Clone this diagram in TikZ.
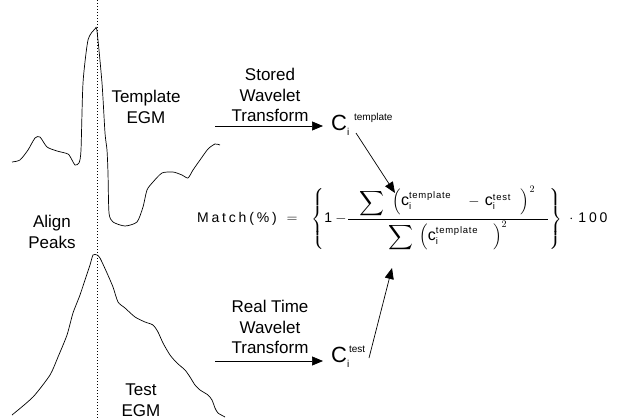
\documentclass[tikz,border=0pt]{standalone}
\usepackage{amsmath}
\usepackage{graphicx}
\usepackage{fontspec}
\setmainfont{Liberation Sans}
\newfontfamily\spacedsf[LetterSpace=20]{Liberation Sans}
\newfontfamily\scriptsf[LetterSpace=8]{Liberation Sans}
\usetikzlibrary{calc, arrows.meta}

% one wavelet coefficient term of the match formula
\newcommand{\cterm}[1]{\text{\fontsize{16}{16}\selectfont c}_{\text{\scriptsf\fontsize{9.5}{10}\selectfont i}}^{\text{\scriptsf\fontsize{9.5}{10}\selectfont #1}}}
\newcommand{\bigsum}{\raisebox{-2pt}{\scalebox{1.2}{$\displaystyle\sum$}}}

\begin{document}
\begin{tikzpicture}[x=1pt,y=-1pt]
            \pgfmathsetmacro{\xa}{97.}
            \pgfmathsetmacro{\xc}{331.}
            \tikzstyle{lbl}=[align=center, inner sep=0pt, font=\fontsize{17}{20.5}\selectfont]
            \tikzstyle{wave}=[line width=0.7pt, black]
            \tikzstyle{flow}=[line width=0.7pt, -{Triangle[length=11pt,width=9pt]}]
            \tikzstyle{coef}=[inner sep=0pt, anchor=base west, font=\fontsize{22}{24}\selectfont]

            \useasboundingbox (0,0) rectangle (624,420);

            %%%%%%%%%%%%%%%%%%%%%%%%%%%%%%%%%%%%%%%%
            \draw[line width=0.6pt, dash pattern=on 1pt off 2pt] (\xa,0) -- (\xa,420);

            % template egm
            \draw[wave] plot[smooth, tension=0.4] coordinates {
                (12,162) (20,160) (28,150) (35,138) (40,137) (47,147) (57,151) (68,154)
                (72,160) (75,165) (79,163) (81,150) (83,83) (88,40) (95,29) (97,31)
                (102,83) (105,133) (107,150) (108,173) (109,213) (113,222) (125,226)
                (137,222) (143,207) (147,190) (153,182) (162,173) (173,172) (182,175)
                (188,178) (193,170) (200,160) (208,149) (215,144) (220,145)};

            % test egm
            \draw[wave] plot[smooth, tension=0.4] coordinates {
                (12,415) (33,397) (50,375) (58,357) (67,335) (73,313) (80,295) (85,280)
                (90,265) (93,255) (97,255) (100,258) (107,273) (113,287) (118,302)
                (125,308) (135,317) (145,322) (153,325) (158,332) (163,343) (170,355)
                (177,363) (185,370) (190,377) (195,385) (200,390) (208,395) (212,400)
                (215,408) (218,413) (225,417)};

            \node at (146,107) (tmplLbl) [lbl] {Template\\EGM};
            \node at (52,232) (alignLbl) [lbl] {Align\\Peaks};
            \node at (141,400) (testLbl) [lbl] {Test\\EGM};

            \node at (270,95) (storedLbl) [lbl] {Stored\\Wavelet\\Transform};
            \node at (270,327) (realLbl) [lbl] {Real Time\\Wavelet\\Transform};

            \node at (\xc,130) (ctmpl) [coef] {$\text{C}_{\text{\fontsize{10}{10}\selectfont i}}^{\hspace{7pt}\text{\fontsize{10}{10}\selectfont template}}$};
            \node at (\xc,362) (ctest) [coef] {$\text{C}_{\text{\fontsize{10}{10}\selectfont i}}^{\hspace{2pt}\text{\fontsize{10}{10}\selectfont test}}$};

            \coordinate (tmplOut) at (215,126);
            \coordinate (testOut) at (215,361);
            \draw[flow, shorten >=8pt] (tmplOut) -- (tmplOut -| ctmpl.west);
            \draw[flow, shorten >=8pt] (testOut) -- (testOut -| ctest.west);

            \node at (197,219) (match) [anchor=west, inner sep=0pt, font=\spacedsf\fontsize{14}{16}\selectfont] {$\text{Match(\%)}\hspace{6pt}=\hspace{10pt}\left\{\text{1}-\hspace{-3pt}\dfrac{\hspace{11pt}\bigsum\hspace{6pt}\left(\cterm{template}\hspace{14pt}-\hspace{2pt}\cterm{test}\hspace{10pt}\right)^{2}\hspace{13pt}}{\bigsum\hspace{3pt}\left(\cterm{template}\hspace{15pt}\right)^{2}}\right\}\hspace{4pt}\cdot\hspace{2pt}\text{100}$};

            \coordinate (numSum) at (395,193);
            \coordinate (denSum) at (392,268);
            \draw[flow] ($(ctmpl.base west)+(25,3)$) -- (numSum);
            \draw[flow] ($(ctest.base west)+(38,-4)$) -- (denSum);
\end{tikzpicture}
\end{document}
